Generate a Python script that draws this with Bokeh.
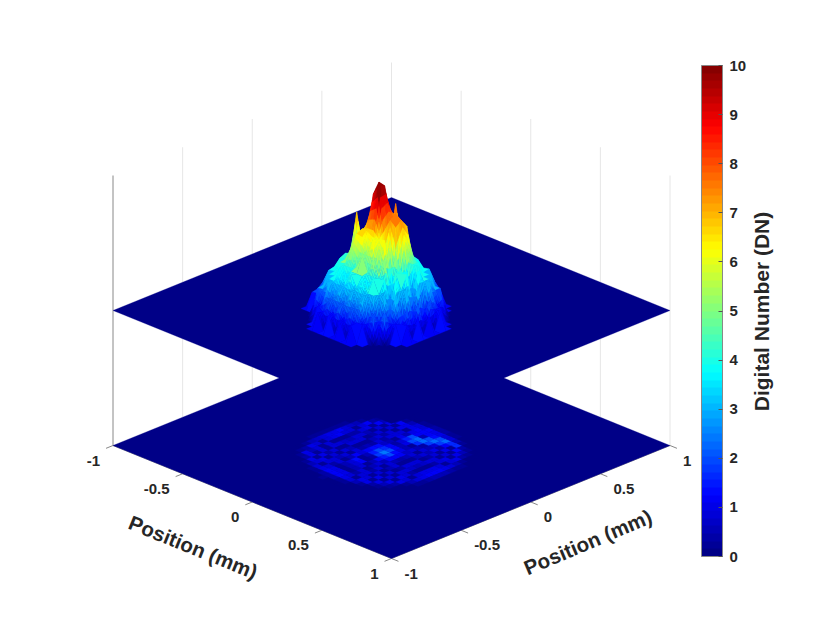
import math
import numpy as np
from bokeh.core.properties import value
from bokeh.embed import file_html
from bokeh.models import ColorBar, FixedTicker, LinearColorMapper, Range1d
from bokeh.plotting import figure
from bokeh.resources import INLINE

# axis ticks
tick_pos = [-1, -0.5, 0, 0.5, 1]
tick_txt = ["-1", "-0.5", "0", "0.5", "1"]
cbar_ticks = [0, 1, 2, 3, 4, 5, 6, 7, 8, 9, 10]
axis_title = "Position (mm)"
cbar_title = "Digital Number (DN)"

# beam profile (DN), rows along first position axis
dome_u = [-0.343, -0.303, -0.263, -0.223, -0.183, -0.143, -0.103, -0.063, -0.023, 0.017,
          0.057, 0.097, 0.137, 0.177, 0.217, 0.257, 0.297, 0.337, 0.377]
dome_v = [-0.467, -0.427, -0.387, -0.347, -0.307, -0.267, -0.227, -0.187, -0.147, -0.107,
          -0.067, -0.027, 0.013, 0.053, 0.093, 0.133, 0.173, 0.213, 0.253]
dome_dn = [
    [0, 0, 0, 0, 0, 0, 0, 0, 0, 0, 0, 0, 0, 0, 0, 0, 0, 0, 0],
    [0, 0, 0, 0, 0, 1.2, 1.3, 1.1, 1.2, 1.3, 1.2, 1.1, 1.3, 1.2, 0, 0, 0, 0, 0],
    [0, 0, 0, 0, 0, 1.3, 2.0, 2.1, 1.9, 2.0, 2.1, 1.9, 2.0, 1.3, 1.2, 0, 0, 0, 0],
    [0, 0, 0, 0, 2.0, 2.1, 3.0, 3.1, 2.9, 3.0, 3.1, 2.9, 3.0, 2.0, 2.1, 1.2, 0, 0, 0],
    [0, 0, 0, 2.0, 2.1, 3.0, 3.1, 3.9, 4.1, 3.9, 6.8, 3.9, 3.1, 3.0, 2.0, 2.1, 1.2, 0, 0],
    [0, 0, 1.3, 1.2, 3.0, 3.1, 3.9, 4.0, 3.8, 3.9, 4.1, 3.8, 3.9, 3.0, 3.1, 2.0, 1.2, 1.3, 0],
    [0, 1.2, 1.1, 3.1, 3.0, 3.9, 4.0, 5.0, 5.2, 4.9, 5.0, 5.1, 4.0, 3.8, 3.0, 2.9, 2.0, 1.2, 0],
    [0, 0, 2.0, 2.2, 3.9, 3.0, 5.0, 6.2, 6.4, 6.1, 6.3, 6.2, 5.1, 3.9, 4.0, 3.0, 2.0, 1.2, 0],
    [0, 1.3, 1.2, 3.0, 3.1, 3.9, 4.1, 6.1, 6.6, 9.0, 9.7, 6.2, 5.0, 7.6, 3.9, 3.1, 2.0, 1.2, 0],
    [0, 0, 2.1, 2.0, 4.0, 3.9, 5.1, 5.0, 6.6, 9.7, 9.6, 7.3, 6.4, 5.0, 3.9, 3.0, 2.0, 1.2, 0],
    [0, 1.2, 1.1, 3.0, 3.2, 3.9, 4.0, 6.2, 6.1, 6.6, 7.2, 7.5, 5.5, 4.0, 3.9, 3.0, 2.0, 1.3, 0],
    [0, 0, 2.0, 2.2, 3.9, 3.0, 5.0, 3.9, 6.2, 3.0, 6.8, 7.2, 6.6, 3.9, 3.8, 3.0, 2.0, 1.2, 0],
    [0, 1.2, 1.3, 3.0, 3.1, 4.0, 3.9, 5.1, 2.2, 5.0, 2.4, 5.2, 3.9, 3.9, 3.0, 3.1, 2.0, 1.2, 0],
    [0, 0, 1.3, 1.2, 3.1, 3.0, 3.9, 1.4, 4.1, 3.9, 3.9, 1.5, 4.0, 3.0, 3.0, 2.0, 1.2, 0, 0],
    [0, 0, 0, 2.0, 1.2, 3.0, 1.2, 3.9, 3.0, 4.0, 1.5, 3.9, 3.0, 3.0, 2.0, 2.0, 0, 0, 0],
    [0, 0, 0, 0, 2.1, 1.2, 3.0, .7, 3.1, .8, 3.0, .6, 3.1, 1.2, 2.0, 0, 0, 0, 0],
    [0, 0, 0, 0, 0, 1.3, 1.2, 2.0, .4, 2.1, .3, 2.0, 1.3, 1.2, 0, 0, 0, 0, 0],
    [0, 0, 0, 0, 0, 0, 1.2, 0, 1.3, 0, 1.2, 0, 1.3, 0, 0, 0, 0, 0, 0],
    [0, 0, 0, 0, 0, 0, 0, 0, 0, 0, 0, 0, 0, 0, 0, 0, 0, 0, 0],
]

# map on the lower plane (DN)
floor_u = [-0.423, -0.383, -0.343, -0.303, -0.263, -0.223, -0.183, -0.143, -0.103, -0.063, -0.023, 0.017,
           0.057, 0.097, 0.137, 0.177, 0.217, 0.257, 0.297, 0.337, 0.377, 0.417, 0.457]
floor_v = [-0.547, -0.507, -0.467, -0.427, -0.387, -0.347, -0.307, -0.267, -0.227, -0.187, -0.147, -0.107,
           -0.067, -0.027, 0.013, 0.053, 0.093, 0.133, 0.173, 0.213, 0.253, 0.293, 0.333]
floor_dn = [
    [0, 0, 0, 0, 0, 0, 0, 0, 0, 0, .1, .1, .1, 0, 0, 0, 0, 0, 0, 0, 0, 0, 0],
    [0, 0, 0, 0, 0, 0, 0, .1, .2, .3, .3, .3, .3, .3, .2, .1, 0, 0, 0, 0, 0, 0, 0],
    [0, 0, 0, 0, .1, .1, .3, .5, .7, .9, 1.0, 1.0, 1.1, .9, .7, .5, .3, .1, .1, 0, 0, 0, 0],
    [0, 0, 0, .1, .2, .4, 1.0, .8, .3, .9, 1.0, 1.1, .9, .8, .3, .9, 1.1, .4, .2, .1, 0, 0, 0],
    [0, 0, .1, .2, 1.0, .5, .9, .3, .8, .3, .3, .2, .4, .4, .8, 1.0, .3, 1.1, .5, .2, .1, 0, 0],
    [0, 0, .1, .4, 1.0, .3, .9, .3, .8, .9, .7, .5, .8, .9, .5, .3, .9, .3, 1.0, .4, .1, 0, 0],
    [0, .1, .3, 1.0, .3, 1.0, .4, .8, .2, .2, .9, .8, .9, .2, .4, .9, .3, .9, .3, 1.1, .3, .1, 0],
    [0, .1, .6, .9, 1.0, .3, .9, .2, .9, .5, .2, .3, .2, .6, .9, .4, .9, .3, 1.0, 1.0, .6, .1, 0],
    [.1, .2, .8, .3, .8, .8, .5, .9, .3, .9, .4, .5, .4, .9, .4, .9, .8, .8, .3, 1.0, .8, .2, .1],
    [.1, .3, 1.0, .9, .4, .9, .2, .6, 1.1, .8, 1.2, 1.4, 1.3, .7, .5, .2, 1.0, .5, 1.0, 1.1, .9, .3, .1],
    [.1, .4, 1.1, 1.0, .3, .6, .9, 1.3, .3, .5, 1.5, 2.0, 1.6, 1.1, .4, .9, 1.5, 1.9, 1.2, 1.2, 1.1, .4, .1],
    [.2, .4, 1.1, 1.0, .3, .6, .9, 1.1, .2, .4, 1.8, 2.4, 1.9, 1.2, .5, 1.0, 2.0, 2.2, .6, 1.1, 1.0, .4, .2],
    [.1, .4, 1.1, 1.0, .3, .6, .9, .2, .5, 1.1, 1.5, 1.9, 1.4, 1.0, .5, .3, 1.6, 2.3, 2.0, 1.3, 1.0, .4, .1],
    [.1, .3, 1.0, .9, .4, .9, .2, .5, .9, .6, 1.1, 1.2, 1.1, .7, .9, .6, .4, 1.8, 2.3, 2.0, .9, .3, .1],
    [.1, .2, .8, .3, .8, .8, .4, .9, .3, .9, .5, .4, .5, .9, .3, .9, .5, .9, 1.8, 2.2, .8, .2, .1],
    [0, .1, .6, 1.0, .9, .3, .9, .2, .5, .9, .2, .2, .2, .5, .9, .5, 1.0, .4, 1.1, 1.6, .6, .1, 0],
    [0, .1, .3, 1.0, .3, 1.0, .3, .9, .2, .4, .9, .9, .9, .2, .4, .9, .3, 1.0, .3, 1.6, .3, .1, 0],
    [0, 0, .1, .4, 1.0, .3, .9, .3, .8, .9, .7, .6, .7, .9, .8, .3, .9, .3, 1.1, .4, .1, 0, 0],
    [0, 0, .1, .2, .5, 1.0, .3, 1.0, .8, .4, .3, .3, .3, .4, .8, 1.0, .3, 1.0, .5, .2, .1, 0, 0],
    [0, 0, 0, .1, .2, .4, 1.0, .9, .3, .9, 1.0, 1.0, 1.0, .9, .3, .9, 1.0, .4, .2, .1, 0, 0, 0],
    [0, 0, 0, 0, .1, .1, .3, .6, .8, 1.0, 1.1, 1.1, 1.1, 1.0, .8, .6, .3, .1, .1, 0, 0, 0, 0],
    [0, 0, 0, 0, 0, 0, .1, .2, .3, .4, .5, .5, .5, .4, .3, .2, .1, 0, 0, 0, 0, 0, 0],
    [0, 0, 0, 0, 0, 0, 0, 0, .1, .1, .2, .2, .2, .1, .1, 0, 0, 0, 0, 0, 0, 0, 0],
]

FLOOR_Z = 0
SURF_Z = 10
TOP_Z = 20
TXT = "#262626"
FONT = value("Liberation Sans")

# view: the two position axes and z on the page
SU, SV, SZ = 139.25, 56.5, 13.5


def px(u, v):
    return SU * (np.asarray(u) + np.asarray(v))


def py(u, v, z):
    return -SV * (np.asarray(u) - np.asarray(v)) + SZ * np.asarray(z)


def jet(n=64):
    out = []
    for k in range(n):
        x = (k + 0.5) / n
        r = min(max(min(4 * x - 1.5, 4.5 - 4 * x), 0), 1)
        g = min(max(min(4 * x - 0.5, 3.5 - 4 * x), 0), 1)
        b = min(max(min(4 * x + 0.5, 2.5 - 4 * x), 0), 1)
        out.append("#%02x%02x%02x" % (round(r * 255), round(g * 255), round(b * 255)))
    return out


palette = jet()


def colour(dn):
    return palette[max(0, min(63, int(dn / 10 * 64)))]


def floor_mesh():
    # one colour per cell, taken from its first corner
    xs, ys, cols = [], [], []
    for i in range(len(floor_u) - 1):
        for j in range(len(floor_v) - 1):
            if floor_dn[i][j] == 0:
                continue
            uu = [floor_u[i], floor_u[i + 1], floor_u[i + 1], floor_u[i]]
            vv = [floor_v[j], floor_v[j], floor_v[j + 1], floor_v[j + 1]]
            xs.append(list(px(uu, vv)))
            ys.append(list(py(uu, vv, [FLOOR_Z] * 4)))
            cols.append(colour(floor_dn[i][j]))
    return xs, ys, cols


def dome_mesh():
    # far faces first so that near ones paint over them, steep faces get colour bands
    dn = np.array(dome_dn, dtype=float)
    faces = []
    for i in range(len(dome_u) - 1):
        for j in range(len(dome_v) - 1):
            c = dn[i:i + 2, j:j + 2]
            if c.max() == 0:
                continue
            n = 4 if c.max() - c.min() > 1.5 else 1
            t = np.linspace(0, 1, n + 1)
            for a in range(n):
                for b in range(n):
                    su = [t[a], t[a + 1], t[a + 1], t[a]]
                    sv = [t[b], t[b], t[b + 1], t[b + 1]]
                    uu = [dome_u[i] + s * (dome_u[i + 1] - dome_u[i]) for s in su]
                    vv = [dome_v[j] + s * (dome_v[j + 1] - dome_v[j]) for s in sv]
                    hh = [(1 - s) * (1 - q) * c[0, 0] + s * (1 - q) * c[1, 0] + (1 - s) * q * c[0, 1] + s * q * c[1, 1]
                          for s, q in zip(su, sv)]
                    faces.append((np.mean(uu) - np.mean(vv), uu, vv, hh))
    faces.sort(key=lambda f: f[0])
    xs = [list(px(f[1], f[2])) for f in faces]
    ys = [list(py(f[1], f[2], SURF_Z + np.array(f[3]))) for f in faces]
    cols = [colour(max(f[3])) for f in faces]
    return xs, ys, cols


p = figure(width=814, height=626, output_backend="svg", toolbar_location=None,
           x_range=Range1d(-391, 814 - 391), y_range=Range1d(445 - 626, 445),
           min_border=0, outline_line_color=None)
p.axis.visible = False
p.grid.visible = False

# walls: vertical grid lines only
for v in tick_pos:
    p.line([px(-1, v)] * 2, [py(-1, v, FLOOR_Z), py(-1, v, TOP_Z)], line_color="#888888" if v == -1 else "#e6e6e6", line_width=1)
for u in tick_pos[1:]:
    p.line([px(u, 1)] * 2, [py(u, 1, FLOOR_Z), py(u, 1, TOP_Z)], line_color="#e6e6e6", line_width=1)

# front edges and tick marks
p.line([px(-1, -1), px(1, -1), px(1, 1)], [py(-1, -1, 0), py(1, -1, 0), py(1, 1, 0)], line_color="#888888", line_width=1)
for t in tick_pos:
    p.line([px(t, -1), px(t, -1.05)], [py(t, -1, 0), py(t, -1.05, 0)], line_color="#888888", line_width=1)
    p.line([px(1, t), px(1.05, t)], [py(1, t, 0), py(1.05, t, 0)], line_color="#888888", line_width=1)

corner_u = [-1, 1, 1, -1]
corner_v = [-1, -1, 1, 1]

# lower plane
p.patch(px(corner_u, corner_v), py(corner_u, corner_v, [FLOOR_Z] * 4), fill_color=palette[0], line_color=palette[0], line_width=0.3)
xs, ys, cols = floor_mesh()
p.patches(xs, ys, fill_color=cols, line_color=cols, line_width=0.3)

# upper plane and surface
p.patch(px(corner_u, corner_v), py(corner_u, corner_v, [SURF_Z] * 4), fill_color=palette[0], line_color=palette[0], line_width=0.3)
xs, ys, cols = dome_mesh()
p.patches(xs, ys, fill_color=cols, line_color=cols, line_width=0.3)

# tick labels
p.text(px(tick_pos, [-1] * 5), py(tick_pos, [-1] * 5, [0] * 5), text=tick_txt, text_align="right", text_baseline="middle",
       x_offset=-13, y_offset=15, text_font=FONT, text_font_style="bold", text_font_size="15px", text_color=TXT)
p.text(px([1] * 5, tick_pos), py([1] * 5, tick_pos, [0] * 5), text=tick_txt, text_align="left", text_baseline="middle",
       x_offset=13, y_offset=15, text_font=FONT, text_font_style="bold", text_font_size="15px", text_color=TXT)

# axis titles
p.text([px(0, -1)], [py(0, -1, 0)], text=[axis_title], angle=-math.radians(22), text_align="center", text_baseline="middle",
       x_offset=-59, y_offset=45, text_font=FONT, text_font_style="bold", text_font_size="20.5px", text_color=TXT)
p.text([px(1, 0)], [py(1, 0, 0)], text=[axis_title], angle=math.radians(23), text_align="center", text_baseline="middle",
       x_offset=57, y_offset=40, text_font=FONT, text_font_style="bold", text_font_size="20.5px", text_color=TXT)

# colour bar
mapper = LinearColorMapper(palette=palette, low=0, high=10)
cb = ColorBar(color_mapper=mapper, location=(701, 70), width=21, height=491, padding=0, margin=0,
              ticker=FixedTicker(ticks=cbar_ticks), major_tick_in=4, major_tick_out=0,
              major_tick_line_color="#555555", minor_tick_line_color=None, bar_line_color="#888888",
              label_standoff=7, major_label_text_font="Liberation Sans", major_label_text_font_style="bold",
              major_label_text_font_size="15px", major_label_text_color=TXT)
p.add_layout(cb)
p.text([761 - 391], [445 - 311], text=[cbar_title], angle=math.pi / 2, text_align="center", text_baseline="middle",
       text_font=FONT, text_font_style="bold", text_font_size="21px", text_color=TXT)

open("out.html", "w").write(file_html(p, INLINE))
